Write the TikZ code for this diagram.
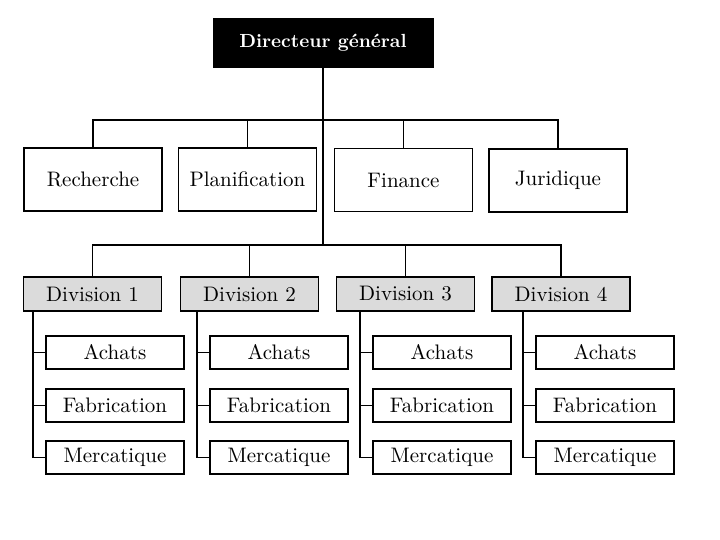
\documentclass[tikz,border=0pt]{standalone}
\usepackage{tikz}

\tikzset{
	box/.style={draw, line width=0.9pt, minimum width=69pt, minimum height=31.5pt, inner sep=0pt, font=\fontsize{10.5}{12}\selectfont},
	divbox/.style={box, fill=gray!28, minimum height=17pt},
	subbox/.style={box, minimum height=16.5pt},
	link/.style={line width=0.8pt}
}

\begin{document}
\begin{tikzpicture}[x=0.5pt, y=-0.5pt]
		\useasboundingbox (0, 0) rectangle (720, 540);
		
		\node[draw, fill=black, text=white, minimum width=110pt, minimum height=24.5pt, font=\fontsize{9.5}{11}\selectfont\bfseries] (dg) at (323, 42.5) {Directeur général};
		
		\node[box] (rech) at (93, 179.5) {Recherche};
		\node[box] (plan) at (247.5, 179.5) {Planification};
		\node[box] (fin) at (403.5, 180) {Finance};
		\node[box] (jur) at (558, 180.5) {Juridique};
		
		\node[divbox] (d1) at (92.5, 294) {Division 1};
		\node[divbox] (d2) at (249.5, 294) {Division 2};
		\node[divbox] (d3) at (405.5, 294) {Division 3};
		\node[divbox] (d4) at (561, 294) {Division 4};
		
		\node[subbox] (a1) at (115, 352.5) {Achats};
		\node[subbox] (f1) at (115, 405.5) {Fabrication};
		\node[subbox] (m1) at (115, 457.5) {Mercatique};
		
		\node[subbox] (a2) at (279, 352.5) {Achats};
		\node[subbox] (f2) at (279, 405.5) {Fabrication};
		\node[subbox] (m2) at (279, 457.5) {Mercatique};
		
		\node[subbox] (a3) at (442, 352.5) {Achats};
		\node[subbox] (f3) at (442, 405.5) {Fabrication};
		\node[subbox] (m3) at (442, 457.5) {Mercatique};
		
		\node[subbox] (a4) at (605, 352.5) {Achats};
		\node[subbox] (f4) at (605, 405.5) {Fabrication};
		\node[subbox] (m4) at (605, 457.5) {Mercatique};
		
		% tronc et barres
		\coordinate (top) at (323, 120);
		\coordinate (mid) at (323, 245);
		\draw[link] (dg.south) -- (mid);
		\draw[link] (rech.north) -- (rech.north |- top) -- (jur.north |- top) -- (jur.north);
		\draw[link] (plan.north) -- (plan.north |- top);
		\draw[link] (fin.north) -- (fin.north |- top);
		\draw[link] (d1.north) -- (d1.north |- mid) -- (d4.north |- mid) -- (d4.north);
		\draw[link] (d2.north) -- (d2.north |- mid);
		\draw[link] (d3.north) -- (d3.north |- mid);
		
		% services des divisions
		\coordinate (v1) at ([xshift=-6pt]a1.west);
		\coordinate (v2) at ([xshift=-6pt]a2.west);
		\coordinate (v3) at ([xshift=-6pt]a3.west);
		\coordinate (v4) at ([xshift=-6pt]a4.west);
		
		\draw[link] (v1 |- d1.south) |- (m1.west);
		\draw[link] (v1) -- (a1.west);
		\draw[link] (v1 |- f1.west) -- (f1.west);
		
		\draw[link] (v2 |- d2.south) |- (m2.west);
		\draw[link] (v2) -- (a2.west);
		\draw[link] (v2 |- f2.west) -- (f2.west);
		
		\draw[link] (v3 |- d3.south) |- (m3.west);
		\draw[link] (v3) -- (a3.west);
		\draw[link] (v3 |- f3.west) -- (f3.west);
		
		\draw[link] (v4 |- d4.south) |- (m4.west);
		\draw[link] (v4) -- (a4.west);
		\draw[link] (v4 |- f4.west) -- (f4.west);
	\end{tikzpicture}
\end{document}
